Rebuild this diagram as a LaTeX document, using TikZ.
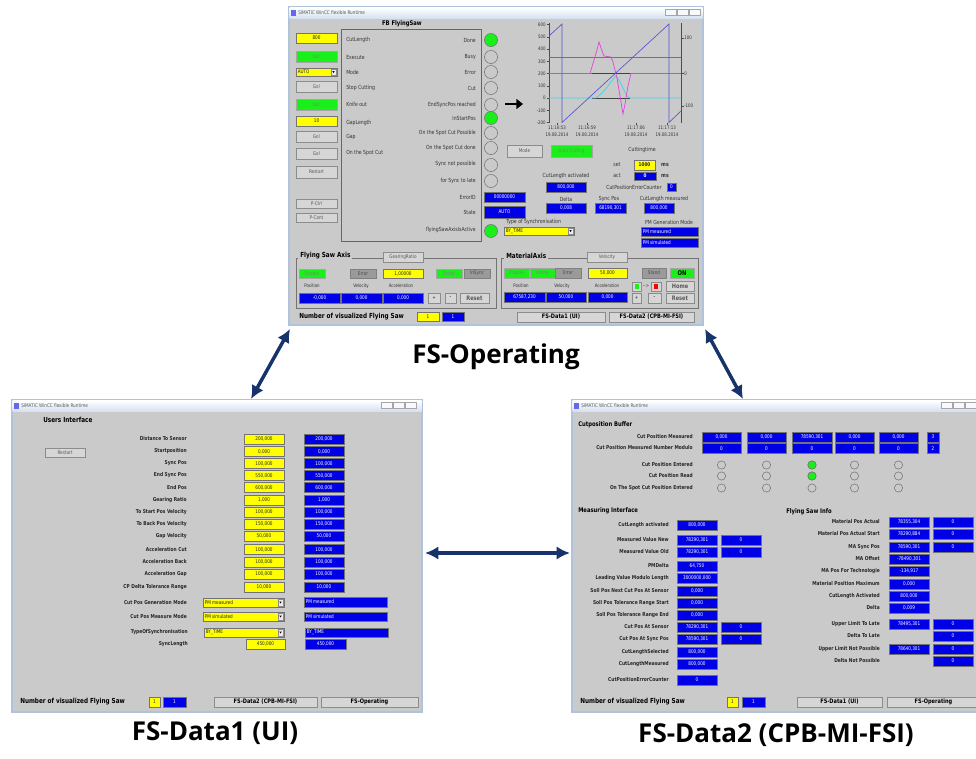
\documentclass[tikz,border=0pt]{standalone}
\usepackage{fontspec}
\setmainfont{DejaVu Sans}
\newfontfamily\scr[FakeStretch=0.82]{DejaVu Sans}
\newfontfamily\lblfont{Open Sans}
\usetikzlibrary{arrows.meta}
\definecolor{winbg}{HTML}{CACACA}
\definecolor{scrblue}{HTML}{0000E6}
\definecolor{scrgreen}{HTML}{19F019}
\definecolor{scryel}{HTML}{FFFF00}
\definecolor{btngray}{HTML}{D6D6D6}
\definecolor{dkbtn}{HTML}{9A9A9A}
\definecolor{tbar}{HTML}{D5E2F2}
\definecolor{wframe}{HTML}{AFC3DC}
\definecolor{navy}{HTML}{17336B}
\definecolor{saw}{HTML}{5555D5}
\definecolor{magc}{HTML}{E040E0}
\definecolor{cyc}{HTML}{40D8E8}
\definecolor{redc}{HTML}{E04848}
\newcommand\fs[1]{\fontsize{#1}{#1}\selectfont}
\tikzset{
  win/.style={draw=wframe, fill=winbg, line width=0.8pt, inner sep=0pt},
  boxbase/.style={line width=0.35pt},
  blu/.style={boxbase, fill=scrblue, draw=black!55},
  blut/.style={inner sep=0pt, text=white, font=\scr\fs{3.8}},
  yel/.style={boxbase, fill=scryel, draw=black!55},
  yelt/.style={inner sep=0pt, text=black!85, font=\scr\fs{3.8}},
  grn/.style={boxbase, fill=scrgreen, draw=black!35},
  grnt/.style={inner sep=0pt, text=black!50, font=\scr\fs{3.8}},
  btn/.style={boxbase, fill=btngray, draw=black!45},
  btnt/.style={inner sep=0pt, text=black!65, font=\scr\fs{3.8}},
  dgr/.style={boxbase, fill=dkbtn, draw=black!50},
  dgrt/.style={inner sep=0pt, text=black!70, font=\scr\fs{3.8}},
  lab/.style={inner sep=0pt, text=black!80, font=\scr\fs{4.2}},
  labs/.style={inner sep=0pt, text=black!80, font=\scr\fs{3.6}},
  labb/.style={inner sep=0pt, text=black!85, font=\scr\bfseries\fs{4}},
  hd/.style={inner sep=0pt, text=black, font=\scr\bfseries\fs{5.2}},
  ttl/.style={inner sep=0pt, text=black!65, font=\scr\fs{3.8}},
  led/.style={draw=black!55, line width=0.4pt},
  link/.style={draw=navy, line width=2.6pt, {Latex[length=10pt,width=10pt]}-{Latex[length=10pt,width=10pt]}},
  caplabel/.style={inner sep=0pt, font=\lblfont\bfseries\fs{19.5}},
}
\newcommand\bx[6]{\draw[#1] (#2,#3) rectangle (#4,#5);
  \node[#1t] at ({(#2+#4)/2},{(#3+#5)/2}) {#6};}
\newcommand\bxl[6]{\draw[#1] (#2,#3) rectangle (#4,#5);
  \node[#1t, anchor=west] at ({#2+1.5},{(#3+#5)/2}) {#6};}
\newcommand\dd[6]{\bxl{#1}{#2}{#3}{#4}{#5}{#6}
  \draw[fill=white!92!black, draw=black!45, line width=0.3pt] ({#4-6},{#3+1}) rectangle ({#4-1},{#5-1});
  \fill[black] ({#4-4.6},{(#3+#5)/2-0.8}) -- ({#4-2.4},{(#3+#5)/2-0.8}) -- ({#4-3.5},{(#3+#5)/2+0.9}) -- cycle;}
\newcommand\ledc[4]{\draw[led, fill=#4] (#1,#2) circle[radius=#3pt];}
\newcommand\tbtns[2]{\foreach \k in {0,1,2}{\draw[draw=black!35, fill=white!80!tbar, line width=0.3pt] ({#1+\k*12},#2) rectangle ({#1+\k*12+11},{#2+6});}}
\newcommand\lrow[3]{\node[labb, anchor=east] at (187,#1) {#2};
  \bx{yel}{244}{#1-5}{284}{#1+5}{#3}\bx{blu}{304}{#1-5}{344}{#1+5}{#3}}
\newcommand\mrow[3]{\node[labb, anchor=east] at (669,#1) {#2};
  \bx{blu}{677}{#1-5}{717}{#1+5}{#3}}
\newcommand\frow[3]{\node[labb, anchor=east] at (880,#1) {#2};
  \bx{blu}{889}{#1-5}{929}{#1+5}{#3}}
\begin{document}
\begin{tikzpicture}[x=0.75pt,y=-0.75pt]
\useasboundingbox (0,0) rectangle (976,758);
\fill[white] (0,0) rectangle (976,758);

%================ TOP WINDOW =================
\node[win, minimum width=310.5pt, minimum height=238.5pt] (topwin) at (496,166) {};
\shade[top color=white, bottom color=tbar] (289.5,7.5) rectangle (702.5,18);
\fill[scrblue!60] (291,9.5) rectangle (296,15.5);
\node[ttl, anchor=west] at (298,12.5) {SIMATIC WinCC flexible Runtime};
\tbtns{665}{9.5}
\node[hd, font=\scr\bfseries\fs{4.8}] at (402,24) {FB FlyingSaw};
% left column
\bx{yel}{296}{33}{337}{43}{800}
\bx{grn}{296}{51}{337}{62}{Go!}
\dd{yel}{296}{68}{337}{76}{AUTO}
\bx{btn}{296}{81}{337}{92}{Go!}
\bx{grn}{296}{99}{337}{110}{Go!}
\bx{yel}{296}{116}{337}{126}{10}
\bx{btn}{296}{131}{337}{142}{Go!}
\bx{btn}{296}{148}{337}{159}{Go!}
\bx{btn}{296}{166}{337}{178}{Restart}
\bx{btn}{296}{199}{337}{208}{P-Ctrl}
\bx{btn}{296}{213}{337}{222}{P-Cont}
% FB frame
\draw[black!60, line width=0.5pt] (341,29) rectangle (481,241);
\node[lab, anchor=west] at (346,40) {CutLength};
\node[lab, anchor=west] at (346,57) {Execute};
\node[lab, anchor=west] at (346,72) {Mode};
\node[lab, anchor=west] at (346,88) {Stop Cutting};
\node[lab, anchor=west] at (346,104) {Knife out};
\node[lab, anchor=west] at (346,123) {GapLength};
\node[lab, anchor=west] at (346,137) {Gap};
\node[lab, anchor=west] at (346,153) {On the Spot Cut};
\node[lab, anchor=east] at (476,40) {Done};
\node[lab, anchor=east] at (476,57) {Busy};
\node[lab, anchor=east] at (476,72) {Error};
\node[lab, anchor=east] at (476,88) {Cut};
\node[lab, anchor=east] at (476,105) {EndSyncPos reached};
\node[lab, anchor=east] at (476,118) {InStartPos};
\node[lab, anchor=east] at (476,133) {On the Spot Cut Possible};
\node[lab, anchor=east] at (476,148) {On the Spot Cut done};
\node[lab, anchor=east] at (476,164) {Sync not possible};
\node[lab, anchor=east] at (476,181) {for Sync to late};
\node[lab, anchor=east] at (476,197) {ErrorID};
\node[lab, anchor=east] at (476,212) {State};
\node[lab, anchor=east] at (476,230) {flyingSawAxisIsActive};
\ledc{491}{40}{4.9}{scrgreen}
\ledc{491}{57}{4.9}{winbg}
\ledc{491}{72}{4.9}{winbg}
\ledc{491}{88}{4.9}{winbg}
\ledc{491}{105}{4.9}{winbg}
\ledc{491}{118}{4.9}{scrgreen}
\ledc{491}{133}{4.9}{winbg}
\ledc{491}{148}{4.9}{winbg}
\ledc{491}{165}{4.9}{winbg}
\ledc{491}{181}{4.9}{winbg}
\ledc{491}{231}{4.9}{scrgreen}
\bx{blu}{484}{192}{525}{202}{00000000}
\bx{blu}{484}{206}{525}{218}{AUTO}
% big arrow
\draw[line width=2.2pt, -{Triangle[length=5pt,width=7.5pt]}] (505,104) -- (523,104);
% chart
\draw[black!70, line width=0.4pt] (549,23) -- (549,122.5);
\draw[black!70, line width=0.4pt] (681,23) -- (681,122.5);
\foreach \v/\yy in {600/24.5,500/36.75,400/49,300/61.25,200/73.5,100/85.75,0/98,-100/110.25,-200/122.5}{
  \draw[black!70, line width=0.3pt] (546.5,\yy) -- (549,\yy);
  \node[labs, anchor=east] at (546,\yy) {\v};}
\foreach \v/\yy in {100/38,0/73.5,-100/106}{
  \draw[black!70, line width=0.3pt] (681,\yy) -- (683.5,\yy);
  \node[labs, anchor=west] at (684,\yy) {\v};}
\begin{scope}
\clip (549,23) rectangle (681,123);
\draw[redc, line width=0.45pt] (549,57) -- (681,57);
\draw[magc, line width=0.45pt] (549,73.5) -- (681,73.5);
\draw[black!75, line width=0.4pt] (592,73.5) -- (630,73.5);
\draw[black!75, line width=0.4pt] (592,98) -- (630,98);
\draw[cyc, line width=0.6pt] (549,98) -- (596,98) -- (602,93) -- (608,86) -- (613,79) -- (616,76) -- (619,80) -- (623,88) -- (627,96) -- (630,98) -- (681,98);
\draw[magc, line width=0.5pt] (590,73.5) -- (594,60) -- (597,50) -- (599,42) -- (601,48) -- (604,56) -- (611,57) -- (613,62) -- (617,78) -- (620,96) -- (623,114) -- (625,104) -- (628,86) -- (631,73.5);
\draw[saw, line width=0.5pt] (549,36) -- (562,24) -- (562,122.5) -- (669,24) -- (669,122.5) -- (681,111);
\end{scope}
\foreach \xx/\tt in {557/11:16:53,587/11:16:59,636/11:17:06,667/11:17:13}{
  \draw[black!70, line width=0.3pt] (\xx,122.5) -- (\xx,124.5);
  \node[labs] at (\xx,128) {\tt};
  \node[labs] at (\xx,135) {19.08.2014};}
\bx{btn}{507}{145}{542}{157}{Mode}
\bx{grn}{551}{145}{592}{157}{Auto Cutting}
\node[lab] at (642,150) {Cuttingtime};
\node[lab] at (617,165) {set};
\bx{yel}{634}{160}{655}{170}{\bfseries 1000}
\node[lab] at (665,165) {\bfseries ms};
\node[lab] at (617,176) {act};
\bx{blu}{634}{172}{656}{180}{\bfseries 0}
\node[lab] at (665,176) {\bfseries ms};
\node[lab] at (566,176) {CutLength activated};
\bx{blu}{546}{182}{586}{192}{800,000}
\node[lab] at (634,187) {CutPositionErrorCounter};
\bx{blu}{667}{183}{676}{191}{0}
\node[lab] at (566,199) {Delta};
\bx{blu}{546}{203}{586}{213}{0,008}
\node[lab] at (609,199) {Sync Pos};
\bx{blu}{595}{203}{626}{213}{68190,301}
\node[lab] at (664,199) {CutLength measured};
\bx{blu}{644}{203}{674}{213}{800,000}
\node[lab, anchor=west] at (506,222) {Type of Synchronisation};
\dd{yel}{504}{227}{574}{235}{BY\_TIME}
\node[lab] at (669,222) {PM Generation Mode};
\bxl{blu}{641}{227}{698}{236}{PM measured}
\bxl{blu}{641}{238}{698}{247}{PM simulated}
% Flying Saw Axis group
\draw[black!55, line width=0.4pt] (296,258) rectangle (496,308);
\node[hd, fill=winbg, inner xsep=1.5pt, anchor=west] at (298,256) {Flying Saw Axis};
\bx{btn}{383}{252}{423}{262}{GearingRatio}
\bx{grn}{299}{269}{325}{278}{Enable}
\bx{dgr}{350}{269}{376}{278}{Error}
\bx{yel}{383}{269}{423}{278}{1,00000}
\bx{grn}{436}{269}{462}{278}{Stand}
\bx{dgr}{464}{269}{490}{278}{InSync}
\node[labs] at (312,286) {Position};
\node[labs] at (361,286) {Velocity};
\node[labs] at (401,286) {Acceleration};
\bx{blu}{299}{293}{340}{303}{-0,000}
\bx{blu}{341}{293}{382}{303}{0,000}
\bx{blu}{383}{293}{423}{303}{0,000}
\bx{btn}{428}{293}{440}{303}{\bfseries +}
\bx{btn}{445}{293}{456}{303}{\bfseries -}
\bx{btn}{460}{293}{489}{303}{\bfseries\fs{4.6}Reset}
\node[hd, anchor=west] at (299,317) {Number of visualized Flying Saw};
\bx{yel}{417}{312}{439}{321}{1}
\bx{blu}{442}{312}{464}{321}{1}
% MaterialAxis group
\draw[black!55, line width=0.4pt] (501,258) rectangle (698,308);
\node[hd, fill=winbg, inner xsep=1.5pt, anchor=west] at (504,256) {MaterialAxis};
\bx{btn}{587}{252}{627}{262}{Velocity}
\bx{grn}{504}{268}{529}{278}{Enable}
\bx{grn}{530}{268}{555}{278}{Home}
\bx{dgr}{555}{268}{581}{278}{Error}
\bx{yel}{588}{268}{627}{278}{50,000}
\bx{dgr}{642}{268}{666}{278}{Stand}
\bx{grn}{670}{268}{694}{278}{\color{black}\bfseries\fs{4.8}ON}
\node[labs] at (521,286) {Position};
\node[labs] at (562,286) {Velocity};
\node[labs] at (607,286) {Acceleration};
\bx{blu}{504}{292}{545}{302}{67587,230}
\bx{blu}{546}{292}{586}{302}{50,000}
\bx{blu}{588}{292}{627}{302}{0,000}
\bx{btn}{632}{282}{641}{291}{}
\fill[scrgreen] (634.5,284) rectangle (638.5,289);
\node[labs] at (646,286.5) {-->};
\bx{btn}{651}{282}{661}{291}{}
\fill[red] (654,284) rectangle (658,289);
\bx{btn}{666}{281}{694}{291}{\bfseries\fs{4.6}Home}
\bx{btn}{632}{293}{641}{303}{\bfseries +}
\bx{btn}{648}{293}{661}{303}{\bfseries -}
\bx{btn}{666}{293}{694}{303}{\bfseries\fs{4.6}Reset}
\bx{btn}{517}{312}{605}{322}{\color{black}\bfseries\fs{4.6}FS-Data1 (UI)}
\bx{btn}{609}{312}{694}{322}{\color{black}\bfseries\fs{4.6}FS-Data2 (CPB-MI-FSI)}

%================ LEFT WINDOW =================
\node[win, minimum width=307.5pt, minimum height=234pt] (leftwin) at (217,556) {};
\shade[top color=white, bottom color=tbar] (12.5,400.5) rectangle (421.5,411);
\fill[scrblue!60] (14,402.5) rectangle (19,408.5);
\node[ttl, anchor=west] at (21,405.5) {SIMATIC WinCC flexible Runtime};
\tbtns{381}{402.5}
\node[hd, anchor=west] at (43,420) {Users Interface};
\bx{btn}{45}{448}{85}{457}{Restart}
\lrow{439}{Distance To Sensor}{200,000}
\lrow{451.5}{Startposition}{0,000}
\lrow{463.5}{Sync Pos}{100,000}
\lrow{475.5}{End Sync Pos}{550,000}
\lrow{487.5}{End Pos}{600,000}
\lrow{500}{Gearing Ratio}{1,000}
\lrow{512}{To Start Pos Velocity}{100,000}
\lrow{524}{To Back Pos Velocity}{150,000}
\lrow{536}{Gap Velocity}{50,000}
\lrow{549.5}{Acceleration Cut}{100,000}
\lrow{562}{Acceleration Back}{100,000}
\lrow{574}{Acceleration Gap}{100,000}
\lrow{587}{CP Delta Tolerance Range}{10,000}
\node[labb, anchor=east] at (187,602.5) {Cut Pos Generation Mode};
\dd{yel}{203}{598}{284}{607}{PM measured}
\bxl{blu}{304}{597}{387}{607}{PM measured}
\node[labb, anchor=east] at (187,616.5) {Cut Pos Measure Mode};
\dd{yel}{203}{612}{284}{621}{PM simulated}
\bxl{blu}{304}{612}{387}{621}{PM simulated}
\node[labb, anchor=east] at (188,632.5) {TypeOfSynchronisation};
\dd{yel}{204}{628}{284}{637}{BY\_TIME}
\bxl{blu}{305}{628}{388}{637}{BY\_TIME}
\node[labb, anchor=east] at (188,644.5) {SyncLength};
\bx{yel}{246}{639}{285}{649}{450,000}
\bx{blu}{305}{639}{346}{649}{450,000}
\node[hd, anchor=west] at (20,702) {Number of visualized Flying Saw};
\bx{yel}{149}{697}{160}{707}{1}
\bx{blu}{163}{697}{186}{707}{1}
\bx{btn}{214}{697}{317}{707}{\color{black}\bfseries\fs{4.6}FS-Data2 (CPB-MI-FSI)}
\bx{btn}{321}{697}{418}{707}{\color{black}\bfseries\fs{4.6}FS-Operating}

%================ RIGHT WINDOW =================
\node[win, minimum width=309pt, minimum height=234pt] (rightwin) at (778,556) {};
\shade[top color=white, bottom color=tbar] (572.5,400.5) rectangle (983,411);
\fill[scrblue!60] (574,402.5) rectangle (579,408.5);
\node[ttl, anchor=west] at (581,405.5) {SIMATIC WinCC flexible Runtime};
\tbtns{941}{402.5}
\node[hd, font=\scr\bfseries\fs{4.8}, anchor=west] at (578,425) {Cutposition Buffer};
\node[labb, anchor=east] at (693,437) {Cut Position Measured};
\node[labb, anchor=east] at (693,448) {Cut Position Measured Number Modulo};
\node[labb, anchor=east] at (693,465) {Cut Position Entered};
\node[labb, anchor=east] at (693,476) {Cut Position Read};
\node[labb, anchor=east] at (693,488) {On The Spot Cut Position Entered};
\bx{blu}{702}{432}{741}{442}{0,000}
\bx{blu}{747}{432}{786}{442}{0,000}
\bx{blu}{792}{432}{832}{442}{78590,301}
\bx{blu}{835}{432}{874}{442}{0,000}
\bx{blu}{879}{432}{918}{442}{0,000}
\bx{blu}{927}{432}{939}{442}{3}
\bx{blu}{702}{443.5}{741}{453.5}{0}
\bx{blu}{747}{443.5}{786}{453.5}{0}
\bx{blu}{792}{443.5}{832}{453.5}{0}
\bx{blu}{835}{443.5}{874}{453.5}{0}
\bx{blu}{879}{443.5}{918}{453.5}{0}
\bx{blu}{927}{443.5}{939}{453.5}{2}
\foreach \cx in {721.5,766.5,812,854.5,898.5}{
  \foreach \cy in {465,476,488}{\ledc{\cx}{\cy}{3.1}{winbg}}}
\ledc{812}{465}{3.1}{scrgreen}
\ledc{812}{476}{3.1}{scrgreen}
\node[hd, font=\scr\bfseries\fs{4.8}, anchor=west] at (578,511) {Measuring Interface};
\mrow{525}{CutLength activated}{800,000}
\mrow{540}{Measured Value New}{78290,301}\bx{blu}{721}{535}{761}{545}{0}
\mrow{552}{Measured Value Old}{78290,301}\bx{blu}{721}{547}{761}{557}{0}
\mrow{566}{PMDelta}{64,750}
\mrow{578}{Leading Value Modulo Length}{3000000,000}
\mrow{591}{Soll Pos Next Cut Pos At Sensor}{0,000}
\mrow{603}{Soll Pos Tolerance Range Start}{0,000}
\mrow{615}{Soll Pos Tolerance Range End}{0,000}
\mrow{627}{Cut Pos At Sensor}{78290,301}\bx{blu}{721}{622}{761}{632}{0}
\mrow{639}{Cut Pos At Sync Pos}{78590,301}\bx{blu}{721}{634}{761}{644}{0}
\mrow{652}{CutLengthSelected}{800,000}
\mrow{664}{CutLengthMeasured}{800,000}
\mrow{680}{CutPositionErrorCounter}{0}
\node[hd, font=\scr\bfseries\fs{4.8}, anchor=west] at (786,512) {Flying Saw Info};
\frow{522}{Material Pos Actual}{78355,304}\bx{blu}{933}{517}{973}{527}{0}
\frow{534}{Material Pos Actual Start}{78290,884}\bx{blu}{933}{529}{973}{539}{0}
\frow{547}{MA Sync Pos}{78590,301}\bx{blu}{933}{542}{973}{552}{0}
\frow{559}{MA Offset}{-78490,301}
\frow{571}{MA Pos For Technologie}{-134,917}
\frow{584}{Material Position Maximum}{0,000}
\frow{596}{CutLength Activated}{800,000}
\frow{608}{Delta}{0,009}
\frow{624}{Upper Limit To Late}{78495,301}\bx{blu}{933}{619}{973}{629}{0}
\node[labb, anchor=east] at (880,636) {Delta To Late};\bx{blu}{933}{631}{973}{641}{0}
\frow{649}{Upper Limit Not Possible}{78640,301}\bx{blu}{933}{644}{973}{654}{0}
\node[labb, anchor=east] at (880,661) {Delta Not Possible};\bx{blu}{933}{656}{973}{666}{0}
\node[hd, anchor=west] at (580,702) {Number of visualized Flying Saw};
\bx{yel}{727}{697}{738}{707}{1}
\bx{blu}{742}{697}{765}{707}{1}
\bx{btn}{797}{697}{882}{707}{\color{black}\bfseries\fs{4.6}FS-Data1 (UI)}
\bx{btn}{887}{697}{980}{707}{\color{black}\bfseries\fs{4.6}FS-Operating}

%================ CAPTIONS =================
\node[caplabel] (capop) at (496,357) {FS-Operating};
\node[caplabel] (capd1) at (215,733) {FS-Data1 (UI)};
\node[caplabel] (capd2) at (776,735) {FS-Data2 (CPB-MI-FSI)};

%================ LINKS =================
\coordinate (a1s) at (290,329);
\coordinate (a1e) at (251,399);
\coordinate (a2s) at (705,329);
\coordinate (a2e) at (743,399);
\coordinate (a3s) at (425,553);
\coordinate (a3e) at (570,553);
\draw[link] (a1s) -- (a1e);
\draw[link] (a2s) -- (a2e);
\draw[link] (a3s) -- (a3e);
\end{tikzpicture}
\end{document}
